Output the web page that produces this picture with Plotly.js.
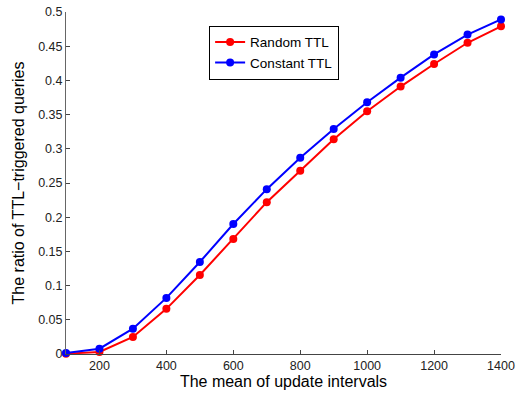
<!DOCTYPE html>
<html><head><meta charset="utf-8">
<script src="https://cdn.plot.ly/plotly-3.0.1.min.js"></script>
<style>body{margin:0;padding:0;background:#fff}#chart{width:521px;height:395px}</style>
</head><body><div id="chart"></div>
<script>
const xVals = [100,200,300,400,500,600,700,800,900,1000,1100,1200,1300,1400];
const randomTTL = [0.0005,0.003,0.025,0.066,0.1155,0.168,0.222,0.268,0.314,0.355,0.391,0.424,0.455,0.479];
const constantTTL = [0.0015,0.0077,0.037,0.082,0.1345,0.190,0.241,0.287,0.329,0.368,0.404,0.438,0.467,0.489];
const xTicks = [200,400,600,800,1000,1200,1400];
const yTicks = [0,0.05,0.1,0.15,0.2,0.25,0.3,0.35,0.4,0.45,0.5];
const yTickText = ['0','0.05','0.1','0.15','0.2','0.25','0.3','0.35','0.4','0.45','0.5'];

const font = 'Liberation Sans, Arial, sans-serif';
const traces = [
  {x:xVals, y:randomTTL, name:'Random TTL', mode:'lines+markers', line:{color:'#ff0000',width:2}, marker:{color:'#ff0000',size:8}, cliponaxis:false},
  {x:xVals, y:constantTTL, name:'Constant TTL', mode:'lines+markers', line:{color:'#0000ff',width:2}, marker:{color:'#0000ff',size:8}, cliponaxis:false}
];
const layout = {
  width:521, height:395,
  margin:{l:66,r:20,t:12,b:41},
  paper_bgcolor:'#fff', plot_bgcolor:'#fff',
  font:{family:font, size:12.5, color:'#222'},
  showlegend:true,
  legend:{x:0.329, y:0.96, xanchor:'left', yanchor:'top', bordercolor:'#000', borderwidth:1, bgcolor:'#fff', font:{size:13.5,color:'#000'}, tracegroupgap:0},
  xaxis:{range:[100,1400], tickvals:xTicks, ticks:'inside', ticklen:4, tickcolor:'#444', showline:true, linecolor:'#444', linewidth:1, showgrid:false, zeroline:false, mirror:false,
    title:{text:'The mean of update intervals', font:{size:16,color:'#000'}, standoff:2}},
  yaxis:{range:[0,0.5], tickvals:yTicks, ticktext:yTickText, ticks:'inside', ticklen:4, tickcolor:'#444', showline:true, linecolor:'#666', linewidth:1, showgrid:false, zeroline:false,
    title:{text:'The ratio of TTL\u2212triggered queries', font:{size:16,color:'#000'}, standoff:9}}
};
Plotly.newPlot('chart', traces, layout, {displayModeBar:false, staticPlot:true});
</script></body></html>
